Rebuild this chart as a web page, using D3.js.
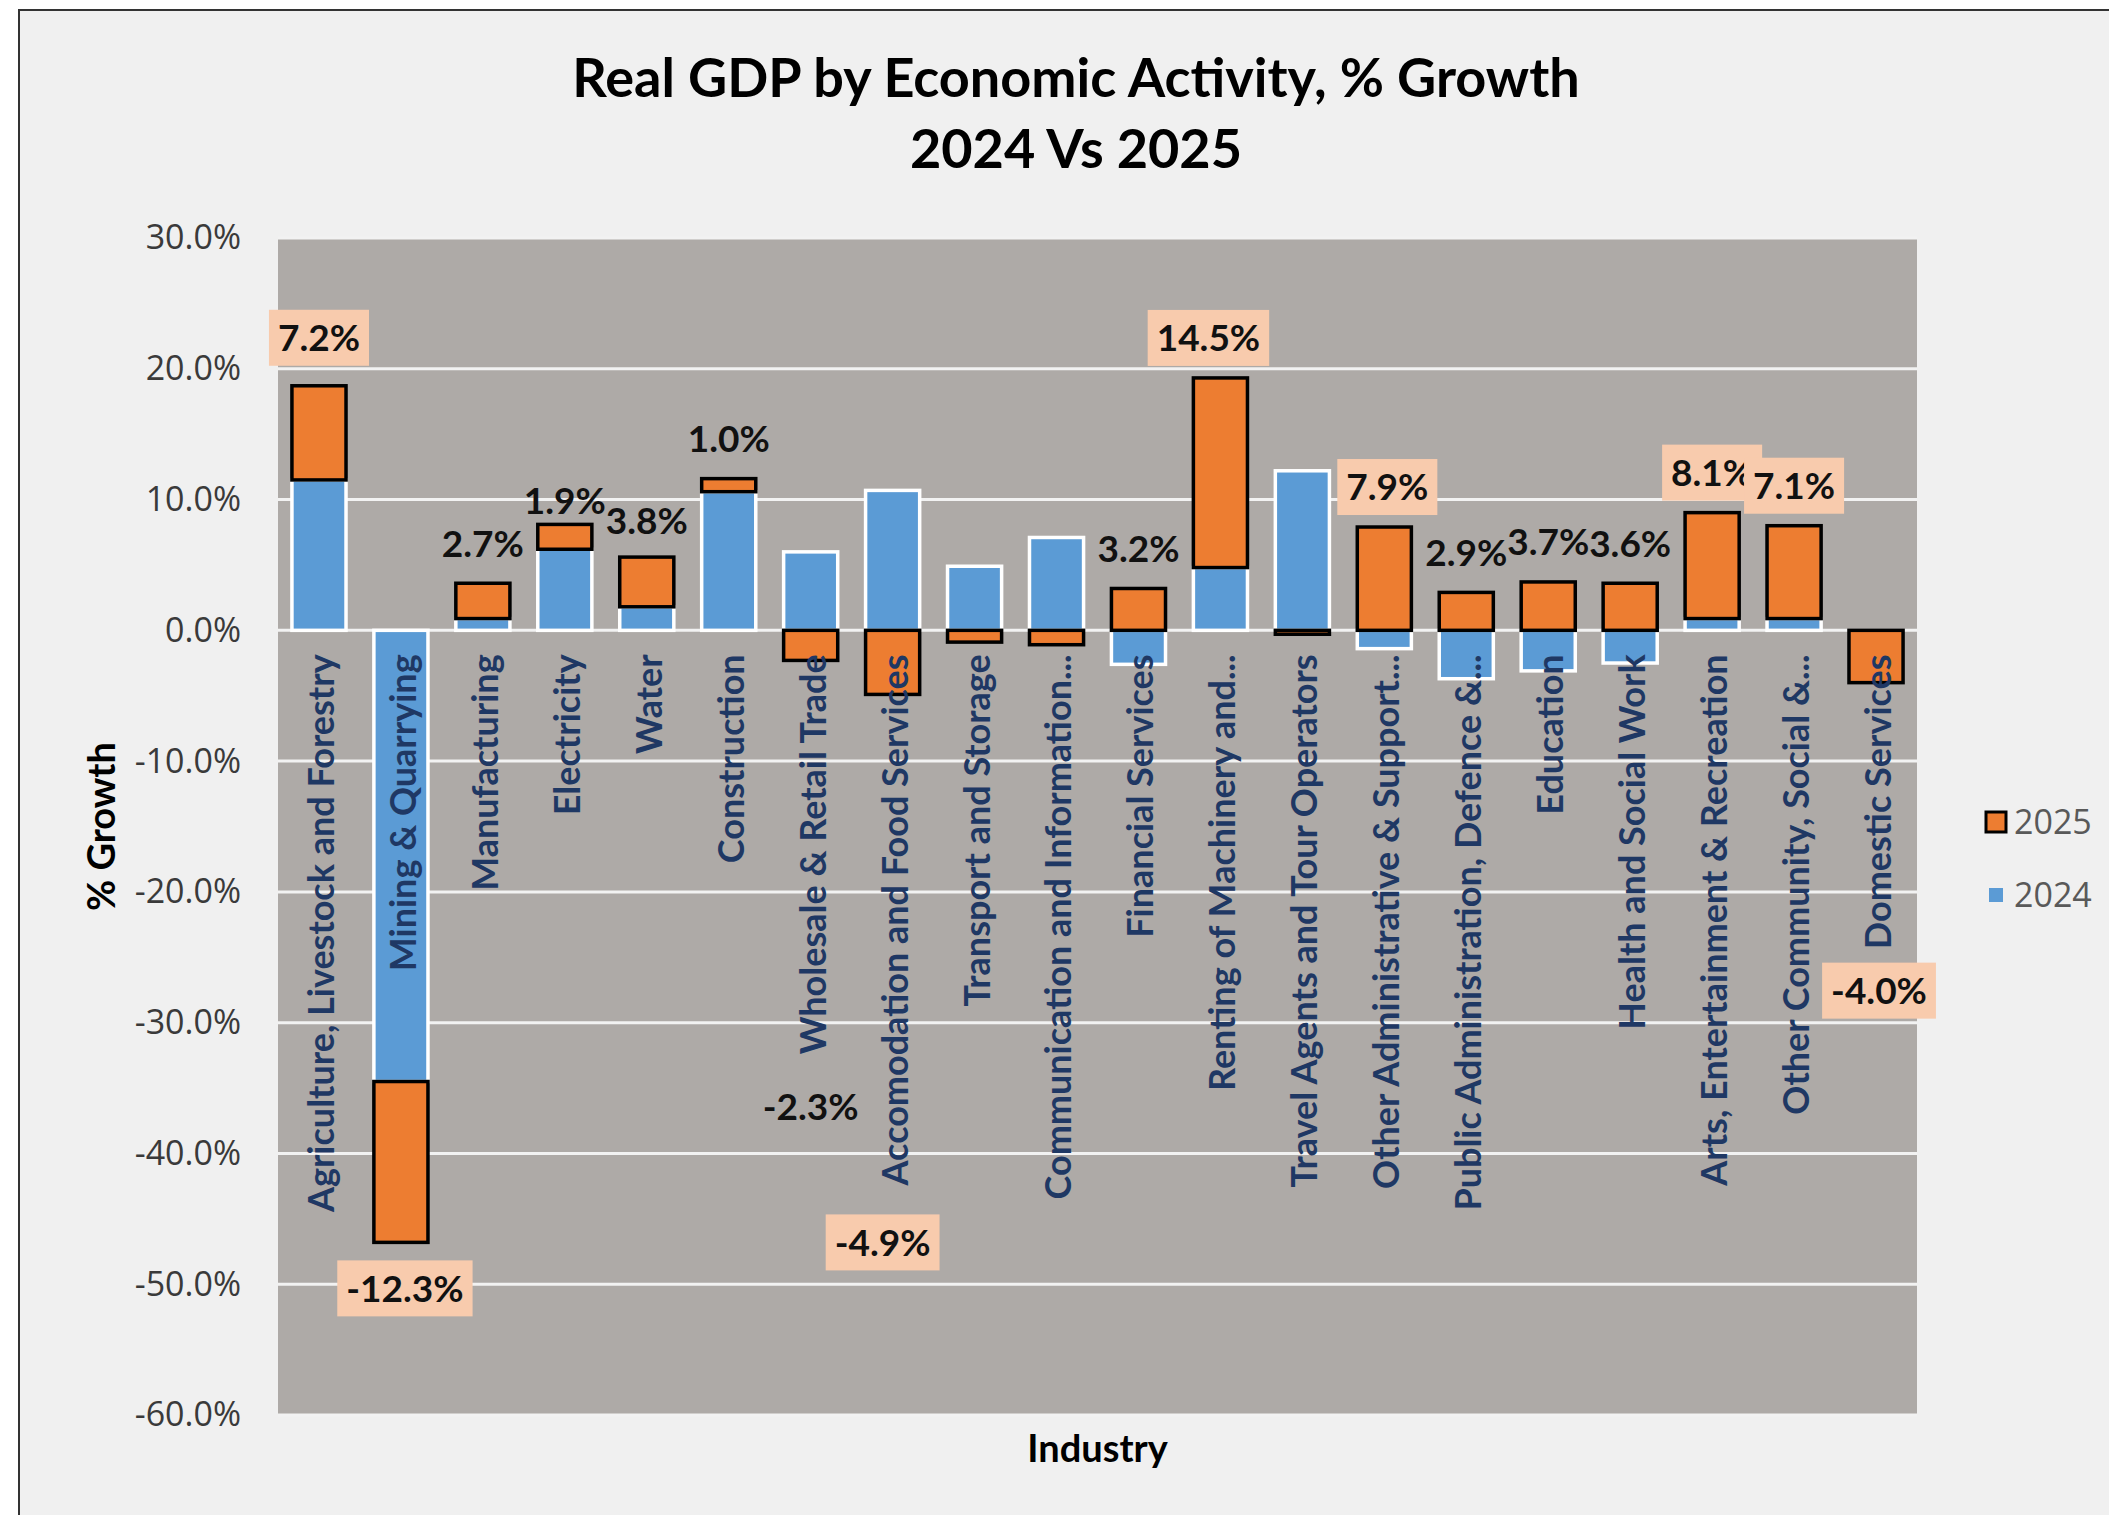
<!DOCTYPE html>
<html>
<head>
<meta charset="utf-8">
<script src="https://cdn.jsdelivr.net/npm/d3@7"></script>
<style>
  body { margin: 0; background: #fff; }
  svg { display: block; }
</style>
</head>
<body>
<div id="viz"></div>
<script>
const WIDTH = 2109;
const HEIGHT = 1515;
const PLOT = { left: 278, right: 1917, top: 238, bottom: 1415 };

// data, % growth
const industries = [
  'Agriculture, Livestock and Forestry', 'Mining & Quarrying', 'Manufacturing',
  'Electricity', 'Water', 'Construction', 'Wholesale & Retail Trade',
  'Accomodation and Food Services', 'Transport and Storage',
  'Communication and Information...', 'Financial Services',
  'Renting of Machinery and...', 'Travel Agents and Tour Operators',
  'Other Administrative & Support...', 'Public Administration, Defence &...',
  'Education', 'Health and Social Work', 'Arts, Entertainment & Recreation',
  'Other Community, Social &...', 'Domestic Services'
];
const growth2024 = [11.5, -34.5, 0.9, 6.2, 1.8, 10.6, 6.0, 10.7, 4.9, 7.1,
                    -2.6, 4.8, 12.2, -1.4, -3.7, -3.1, -2.5, 0.9, 0.9, 0.0];
const growth2025 = [7.2, -12.3, 2.7, 1.9, 3.8, 1.0, -2.3, -4.9, -0.9, -1.1,
                    3.2, 14.5, -0.3, 7.9, 2.9, 3.7, 3.6, 8.1, 7.1, -4.0];
// which 2025 labels are shown, and which have the peach box
const labelShown = [1, 1, 1, 1, 1, 1, 1, 1, 0, 0, 1, 1, 0, 1, 1, 1, 1, 1, 1, 1];
const labelBoxed = [1, 1, 0, 0, 0, 0, 0, 1, 0, 0, 0, 1, 0, 1, 0, 0, 0, 1, 1, 1];
const yTicks = [30, 20, 10, 0, -10, -20, -30, -40, -50, -60];

// hand-moved labels (pixel nudges, as in the source chart)
const labelNudge = {
  0: [0, -8], 1: [4, 0], 3: [0, 16], 4: [0, 4], 6: [0, 400], 7: [-10, 502],
  11: [-12, 0], 13: [3, 0], 19: [3, 262]
};

const COLORS = { y2024: '#5B9BD5', y2025: '#ED7D31', plot: '#AEAAA7',
                 bg: '#F0F0F0', grid: '#F2F2F2', cat: '#1F3864', box: '#F8CBAD' };

const pct = v => d3.format('.1f')(v).replace('\u2212', '-') + '%';

const svg = d3.select('#viz').append('svg')
  .attr('width', WIDTH)
  .attr('height', HEIGHT);

// chart area + border
svg.append('rect')
  .attr('x', 19).attr('y', 10)
  .attr('width', WIDTH + 10).attr('height', HEIGHT + 10)
  .attr('fill', COLORS.bg)
  .attr('stroke', '#333').attr('stroke-width', 2);

// title
const title = svg.append('text')
  .attr('text-anchor', 'middle')
  .attr('font-family', 'Lato, sans-serif')
  .attr('font-weight', 'bold')
  .attr('font-size', 54)
  .attr('fill', '#000');
title.append('tspan').attr('x', 1076).attr('y', 97)
  .text('Real GDP by Economic Activity, % Growth');
title.append('tspan').attr('x', 1076).attr('y', 168)
  .text('2024 Vs 2025');

const x = d3.scaleBand()
  .domain(industries)
  .range([PLOT.left, PLOT.right])
  .paddingInner(0.34)
  .paddingOuter(0.17);

const y = d3.scaleLinear()
  .domain([-60, 30])
  .range([PLOT.bottom, PLOT.top]);

// plot area
svg.append('rect')
  .attr('x', PLOT.left).attr('y', PLOT.top)
  .attr('width', PLOT.right - PLOT.left)
  .attr('height', PLOT.bottom - PLOT.top)
  .attr('fill', COLORS.plot);

// gridlines
svg.append('g')
  .selectAll('line')
  .data(yTicks)
  .join('line')
    .attr('x1', PLOT.left).attr('x2', PLOT.right)
    .attr('y1', d => y(d)).attr('y2', d => y(d))
    .attr('stroke', COLORS.grid)
    .attr('stroke-width', 3);

// y axis labels
const yAxis = svg.append('g')
  .attr('transform', `translate(${PLOT.left - 34}, 0)`)
  .call(d3.axisLeft(y).tickValues(yTicks).tickSize(0).tickFormat(pct));
yAxis.select('.domain').remove();
yAxis.selectAll('text')
  .attr('font-family', '"Open Sans", sans-serif')
  .attr('font-size', 34)
  .attr('fill', '#3a3a3a');

// stacked bars, diverging like Excel
const rows = industries.map((name, i) => ({ name, y2024: growth2024[i], y2025: growth2025[i] }));
const series = d3.stack()
  .keys(['y2024', 'y2025'])
  .offset(d3.stackOffsetDiverging)(rows);

const bars = svg.append('g');
series.forEach(s => {
  const is2025 = s.key === 'y2025';
  bars.append('g')
    .selectAll('rect')
    .data(s.filter(d => d[1] !== d[0]))
    .join('rect')
      .attr('x', d => x(d.data.name))
      .attr('width', x.bandwidth())
      .attr('y', d => y(Math.max(d[0], d[1])))
      .attr('height', d => Math.abs(y(d[0]) - y(d[1])))
      .attr('fill', COLORS[s.key])
      .attr('stroke', is2025 ? '#000' : '#fff')
      .attr('stroke-width', 3.5);
});

// category labels
const xAxis = svg.append('g')
  .attr('transform', `translate(0, ${y(0) + 24})`);
xAxis.selectAll('text')
  .data(industries)
  .join('text')
    .attr('transform', d => `translate(${x(d) + x.bandwidth() / 2 + 2}, 0) rotate(-90)`)
    .attr('text-anchor', 'end')
    .attr('dy', '0.36em')
    .attr('font-family', 'Lato, sans-serif')
    .attr('font-weight', 'bold')
    .attr('font-size', 36)
    .attr('fill', COLORS.cat)
    .text(d => d);

// 2025 data labels
const top2025 = series[1];
const labels = svg.append('g');
top2025.forEach((d, i) => {
  if (!labelShown[i]) return;
  const v = growth2025[i];
  const end = v >= 0 ? Math.max(d[0], d[1]) : Math.min(d[0], d[1]);
  const nudge = labelNudge[i] || [0, 0];
  const cx = x(d.data.name) + x.bandwidth() / 2 + nudge[0];
  const cy = y(end) + (v >= 0 ? -40 : 46) + nudge[1];
  const g = labels.append('g').attr('transform', `translate(${cx}, ${cy})`);
  const txt = g.append('text')
    .attr('text-anchor', 'middle')
    .attr('dy', '0.36em')
    .attr('font-family', 'Lato, sans-serif')
    .attr('font-weight', 'bold')
    .attr('font-size', 37)
    .attr('fill', '#111')
    .text(pct(v));
  if (labelBoxed[i]) {
    const bb = txt.node().getBBox();
    g.insert('rect', 'text')
      .attr('x', bb.x - 9).attr('y', -28)
      .attr('width', bb.width + 18).attr('height', 56)
      .attr('fill', COLORS.box);
  }
});

// axis titles
svg.append('text')
  .attr('transform', `translate(101, ${(PLOT.top + PLOT.bottom) / 2}) rotate(-90)`)
  .attr('text-anchor', 'middle')
  .attr('dy', '0.36em')
  .attr('font-family', 'Lato, sans-serif')
  .attr('font-weight', 'bold')
  .attr('font-size', 38)
  .attr('fill', '#000')
  .text('% Growth');

svg.append('text')
  .attr('x', (PLOT.left + PLOT.right) / 2)
  .attr('y', 1462)
  .attr('text-anchor', 'middle')
  .attr('font-family', 'Lato, sans-serif')
  .attr('font-weight', 'bold')
  .attr('font-size', 38)
  .attr('fill', '#000')
  .text('Industry');

// legend
const legendItems = [
  { key: 'y2025', label: '2025', size: 20, stroke: '#000' },
  { key: 'y2024', label: '2024', size: 14, stroke: 'none' }
];
const legend = svg.append('g').attr('transform', 'translate(1996, 822)');
legendItems.forEach((item, i) => {
  const g = legend.append('g').attr('transform', `translate(0, ${i * 73})`);
  g.append('rect')
    .attr('x', -item.size / 2).attr('y', -item.size / 2)
    .attr('width', item.size).attr('height', item.size)
    .attr('fill', COLORS[item.key])
    .attr('stroke', item.stroke)
    .attr('stroke-width', 3);
  g.append('text')
    .attr('x', 18)
    .attr('dy', '0.36em')
    .attr('font-family', '"Open Sans", sans-serif')
    .attr('font-size', 34)
    .attr('fill', '#595959')
    .text(item.label);
});
</script>
</body>
</html>
